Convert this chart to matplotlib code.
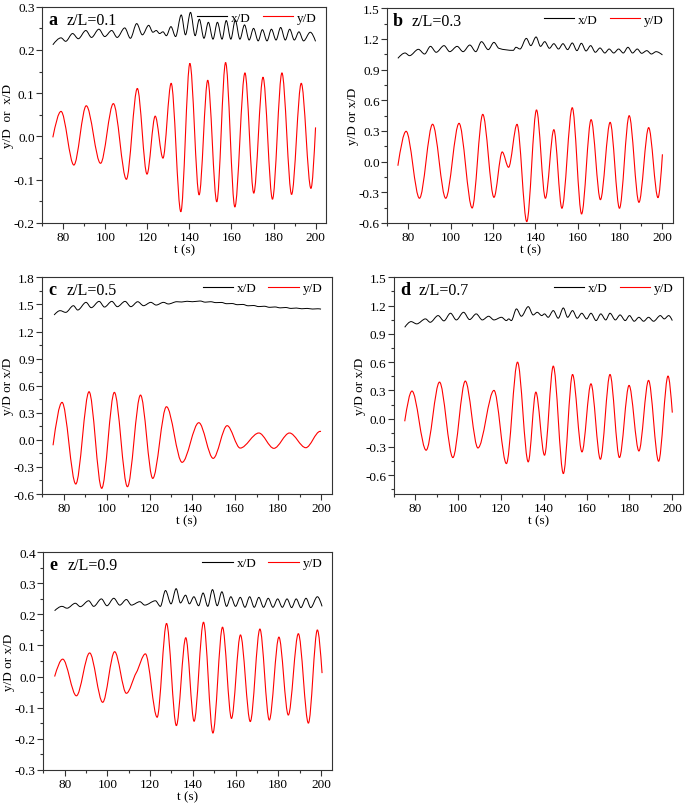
import matplotlib
matplotlib.use("Agg")
import matplotlib.pyplot as plt
from matplotlib.path import Path
from matplotlib.patches import PathPatch
from matplotlib.lines import Line2D
from matplotlib.ticker import MultipleLocator, AutoMinorLocator, FormatStrFormatter

plt.rcParams['font.family'] = ['Liberation Serif', 'DejaVu Serif']
plt.rcParams['axes.unicode_minus'] = False

# peaks / troughs: time (s) and value
# panel a, z/L=0.1
ya_t = [75, 78.9, 85, 90.9, 97.7, 103.8, 110, 115.2, 119.8, 123.7, 127.4, 131.3, 135.9, 140.2,
        144.6, 148.7, 153, 157.2, 161.6, 166.4, 170.6, 175, 179.5, 184, 188.6, 193.2, 197.8, 200]
ya_v = [-0.002, 0.058, -0.066, 0.071, -0.062, 0.076, -0.099, 0.111, -0.087, 0.047, -0.050, 0.123,
        -0.174, 0.169, -0.135, 0.130, -0.151, 0.171, -0.163, 0.147, -0.131, 0.137, -0.145, 0.147,
        -0.134, 0.123, -0.120, 0.021]
xa_t = [75, 78.9, 81.1, 84.4, 87.1, 90.7, 93.4, 96.9, 99.7, 103, 105.6, 109.2, 111.9, 114.9, 117.6,
        120.6, 122.6, 124.2, 125.8, 127.4, 129, 131.2, 133.4, 136.1, 138.1, 140.5, 142.7, 144.7,
        146.9, 149, 151.2, 153.3, 155.5, 157.5, 159.7, 161.8, 164, 166.2, 168.4, 170.5, 172.7,
        174.7, 176.9, 179, 181.2, 183.4, 185.6, 187.7, 189.9, 192.1, 194.3, 197.5, 200]
xa_v = [0.212, 0.228, 0.220, 0.238, 0.226, 0.245, 0.229, 0.248, 0.231, 0.245, 0.229, 0.251, 0.227,
        0.261, 0.235, 0.257, 0.241, 0.245, 0.238, 0.242, 0.233, 0.254, 0.231, 0.281, 0.235, 0.287,
        0.233, 0.271, 0.227, 0.264, 0.225, 0.264, 0.225, 0.268, 0.225, 0.269, 0.225, 0.258, 0.223,
        0.250, 0.221, 0.247, 0.221, 0.248, 0.223, 0.252, 0.223, 0.248, 0.223, 0.242, 0.221, 0.241,
        0.220]

# panel b, z/L=0.3
yb_t = [75, 78.9, 85.2, 91.4, 97.6, 103.9, 110.1, 115.1, 120.4, 124.3, 127.3, 131.3, 135.9, 140.5,
        144.7, 148.7, 152.5, 157.4, 161.8, 166.3, 170.7, 175.3, 179.7, 184.3, 188.9, 193.5, 197.9, 200]
yb_v = [-0.04, 0.297, -0.358, 0.366, -0.358, 0.375, -0.453, 0.463, -0.349, 0.095, -0.055, 0.365,
        -0.587, 0.506, -0.358, 0.313, -0.456, 0.528, -0.512, 0.411, -0.372, 0.385, -0.456, 0.450,
        -0.398, 0.333, -0.352, 0.072]
xb_t = [75, 78.4, 80.5, 84.7, 87.6, 90.4, 93.1, 96.8, 99.5, 103, 105.8, 109, 111.8, 114.5, 117.7,
        120.4, 122.7, 129.5, 130.8, 132.7, 135.7, 137.8, 140.3, 142.4, 144.4, 146.6, 148.7, 150.9,
        153, 155.2, 157.4, 159.6, 161.7, 163.9, 166.1, 168.3, 170.5, 172.8, 174.8, 177, 179.3,
        181.5, 183.7, 185.9, 188.1, 190.2, 192.6, 194.8, 197, 200]
xb_v = [1.011, 1.063, 1.037, 1.099, 1.053, 1.128, 1.070, 1.135, 1.076, 1.128, 1.076, 1.141, 1.076,
        1.174, 1.096, 1.167, 1.109, 1.089, 1.119, 1.102, 1.206, 1.135, 1.220, 1.128, 1.174, 1.109,
        1.154, 1.102, 1.154, 1.096, 1.161, 1.086, 1.158, 1.083, 1.135, 1.070, 1.112, 1.063, 1.102,
        1.063, 1.102, 1.063, 1.119, 1.063, 1.102, 1.060, 1.086, 1.053, 1.076, 1.044]

# panel c, z/L=0.5
yc_t = [75, 79.2, 85.6, 91.8, 97.7, 103.6, 109.7, 115.8, 121.5, 127.9, 135.2, 143, 149.7, 156.2,
        162.3, 171, 178, 185.3, 192.9, 199.6, 200]
yc_v = [-0.06, 0.415, -0.489, 0.533, -0.537, 0.526, -0.519, 0.496, -0.427, 0.367, -0.249, 0.190,
        -0.205, 0.157, -0.091, 0.076, -0.094, 0.076, -0.087, 0.094, 0.093]
xc_t = [75.5, 78.3, 80.9, 84.5, 86.5, 90.4, 92.8, 96.5, 99, 102.4, 105, 108.6, 111.3, 114.5, 117.2,
        120.6, 123.1, 126.5, 128.8, 132.7, 135, 137.5, 140, 143.6, 146, 148.5, 151, 153.5, 156,
        158.5, 161, 163.5, 166, 168.5, 171, 173.5, 176, 178.5, 181, 183.5, 186, 188.5, 191, 193.5,
        196, 198.5, 200]
xc_v = [1.383, 1.431, 1.412, 1.486, 1.438, 1.523, 1.464, 1.534, 1.471, 1.534, 1.475, 1.534, 1.475,
        1.530, 1.486, 1.523, 1.493, 1.523, 1.505, 1.530, 1.527, 1.535, 1.530, 1.538, 1.525, 1.530,
        1.520, 1.522, 1.508, 1.510, 1.497, 1.500, 1.485, 1.488, 1.476, 1.480, 1.468, 1.472, 1.462,
        1.466, 1.456, 1.460, 1.452, 1.456, 1.449, 1.452, 1.448]

# panel d, z/L=0.7
yd_t = [75, 78.4, 85, 91.25, 97.5, 103.3, 109.2, 116.7, 122.5, 127.7, 132.7, 136.25, 140.3, 144.4,
        149.1, 153.4, 157.8, 162, 166.4, 170.9, 175.3, 179.8, 184.4, 188.9, 193.6, 198, 200]
yd_v = [-0.028, 0.293, -0.335, 0.388, -0.413, 0.399, -0.311, 0.300, -0.477, 0.600, -0.459, 0.282,
        -0.388, 0.558, -0.583, 0.469, -0.353, 0.370, -0.431, 0.469, -0.413, 0.353, -0.343, 0.406,
        -0.452, 0.452, 0.064]
xd_t = [75, 78, 80.6, 84.7, 86.9, 90.6, 93.3, 96.4, 99.1, 102.5, 105.3, 108.4, 111.25, 114.2, 116.7,
        120.2, 122.5, 123.6, 124.8, 127.2, 129.5, 132.7, 135, 136.9, 139, 140.3, 142, 144.4, 146.7,
        149.1, 151.1, 153.4, 155.6, 157.7, 160, 162, 164.4, 166.6, 168.9, 170.9, 173.4, 175.6, 178,
        180, 182.2, 184.4, 186.6, 188.9, 191.25, 194.4, 196.25, 198.3, 200]
xd_v = [0.970, 1.030, 1.006, 1.059, 1.023, 1.094, 1.038, 1.119, 1.048, 1.129, 1.052, 1.112, 1.048,
        1.087, 1.048, 1.076, 1.041, 1.059, 1.041, 1.165, 1.087, 1.189, 1.101, 1.129, 1.094, 1.112,
        1.076, 1.147, 1.066, 1.175, 1.076, 1.147, 1.066, 1.119, 1.059, 1.119, 1.041, 1.112, 1.048,
        1.119, 1.048, 1.101, 1.041, 1.094, 1.034, 1.076, 1.034, 1.076, 1.034, 1.094, 1.059, 1.094,
        1.041]

# panel e, z/L=0.9
ye_t = [75.3, 79.1, 85.5, 91.7, 97.8, 103.4, 108.9, 113.5, 117.8, 123.3, 127.7, 132.3, 136.7, 140.6,
        145, 149.4, 153.9, 158.1, 162.3, 166.9, 171.4, 175.8, 180.3, 184.7, 189.4, 194.1, 198.3, 200.5]
ye_v = [0.000, 0.056, -0.062, 0.076, -0.083, 0.080, -0.054, 0.012, 0.073, -0.131, 0.171, -0.158,
        0.125, -0.144, 0.175, -0.182, 0.159, -0.135, 0.134, -0.145, 0.153, -0.140, 0.127, -0.124,
        0.138, -0.150, 0.150, 0.011]
xe_t = [75.3, 78.75, 81.1, 85, 87.3, 91.25, 93.6, 97.2, 99.8, 103, 105.8, 108.9, 111.25, 115.2,
        117.5, 122.5, 124.8, 127.2, 129.8, 132.2, 134.2, 136.6, 138.4, 140.5, 142.7, 144.8, 147,
        149.2, 151.4, 153.6, 155.8, 157.8, 160, 162.2, 164.4, 166.6, 168.75, 170.9, 173.1, 175.3,
        177.5, 179.7, 181.9, 184.1, 186.25, 188.4, 190.6, 193, 195.2, 198.3, 200.5]
xe_v = [0.212, 0.226, 0.220, 0.236, 0.225, 0.244, 0.226, 0.250, 0.228, 0.252, 0.230, 0.248, 0.230,
        0.241, 0.230, 0.244, 0.226, 0.277, 0.234, 0.283, 0.237, 0.262, 0.234, 0.257, 0.228, 0.269,
        0.226, 0.280, 0.228, 0.273, 0.226, 0.257, 0.226, 0.255, 0.223, 0.257, 0.223, 0.255, 0.223,
        0.252, 0.223, 0.250, 0.223, 0.250, 0.222, 0.250, 0.222, 0.252, 0.222, 0.257, 0.226]

labels = ['a', 'b', 'c', 'd', 'e']
zl = ['z/L=0.1', 'z/L=0.3', 'z/L=0.5', 'z/L=0.7', 'z/L=0.9']
ylims = [(-0.2, 0.3), (-0.6, 1.5), (-0.6, 1.8), (-0.8, 1.5), (-0.3, 0.4)]
ysteps = [0.1, 0.3, 0.3, 0.3, 0.1]
ylabels = ['y/D  or  x/D', 'y/D or x/D', 'y/D or x/D', 'y/D or x/D', 'y/D or x/D']
series = [(xa_t, xa_v, ya_t, ya_v), (xb_t, xb_v, yb_t, yb_v), (xc_t, xc_v, yc_t, yc_v),
          (xd_t, xd_v, yd_t, yd_v), (xe_t, xe_v, ye_t, ye_v)]

# axes boxes in figure fractions
boxes = [[0.0618, 0.7214, 0.4142, 0.2690],
         [0.5654, 0.7214, 0.4171, 0.2670],
         [0.0618, 0.3843, 0.4225, 0.2695],
         [0.5752, 0.3843, 0.4219, 0.2695],
         [0.0632, 0.0414, 0.4210, 0.2704]]


def smooth_path(t, v):
    # hermite curve through the read extrema, drawn as cubic bezier segments
    n = len(t)
    m = [0.0] * n
    for i in range(1, n - 1):
        if (v[i] - v[i - 1]) * (v[i + 1] - v[i]) > 0:
            m[i] = 0.8 * (v[i + 1] - v[i - 1]) / (t[i + 1] - t[i - 1])
    m[0] = 1.5 * (v[1] - v[0]) / (t[1] - t[0])
    m[-1] = 1.5 * (v[-1] - v[-2]) / (t[-1] - t[-2])
    verts = [(t[0], v[0])]
    codes = [Path.MOVETO]
    for i in range(1, n):
        dt = t[i] - t[i - 1]
        verts.append((t[i - 1] + dt / 3, v[i - 1] + m[i - 1] * dt / 3))
        verts.append((t[i] - dt / 3, v[i] - m[i] * dt / 3))
        verts.append((t[i], v[i]))
        codes += [Path.CURVE4] * 3
    return Path(verts, codes)


fig = plt.figure(figsize=(6.85, 8.04), dpi=100)

for k in range(5):
    ax = fig.add_axes(boxes[k])
    xt, xv, yt, yv = series[k]
    ax.add_patch(PathPatch(smooth_path(xt, xv), fill=False, edgecolor='black', lw=0.7))
    ax.add_patch(PathPatch(smooth_path(yt, yv), fill=False, edgecolor='red', lw=0.8))

    ax.set_xlim(70, 205)
    ax.set_ylim(*ylims[k])
    ax.xaxis.set_major_locator(MultipleLocator(20))
    ax.xaxis.set_minor_locator(AutoMinorLocator(2))
    ax.yaxis.set_major_locator(MultipleLocator(ysteps[k]))
    ax.yaxis.set_minor_locator(AutoMinorLocator(2))
    ax.yaxis.set_major_formatter(FormatStrFormatter('%.1f'))
    ax.tick_params(which='both', direction='out', labelsize=9.5, top=False, right=False,
                   color='#333333', width=0.8)
    ax.tick_params(which='major', length=4)
    ax.tick_params(which='minor', length=2)
    ax.tick_params(axis='y', pad=1.5)
    ax.tick_params(axis='x', pad=2)
    if k == 3:
        ax.set_yticks([-0.6, -0.3, 0.0, 0.3, 0.6, 0.9, 1.2, 1.5])
    for s in ax.spines.values():
        s.set_linewidth(0.8)
        s.set_color('#333333')

    ax.set_xlabel('t (s)', fontsize=9.5, labelpad=0)
    ax.set_ylabel(ylabels[k], fontsize=9.5, labelpad=-0.5)

    ax.text(0.02, 0.922, labels[k], transform=ax.transAxes, fontsize=13,
            fontweight='bold', va='baseline')
    ax.text(0.085, 0.922, zl[k], transform=ax.transAxes, fontsize=11.5, va='baseline')

    handles = [Line2D([], [], color='black', lw=0.8, label='x/D'),
               Line2D([], [], color='red', lw=0.8, label='y/D')]
    ax.legend(handles=handles, loc='upper right', bbox_to_anchor=(1.0, 1.02), ncol=2,
              frameon=False, fontsize=9.5, handlelength=2.3, handletextpad=0.3,
              columnspacing=0.9, borderaxespad=0.3)

fig.savefig('out.png', dpi=100)
